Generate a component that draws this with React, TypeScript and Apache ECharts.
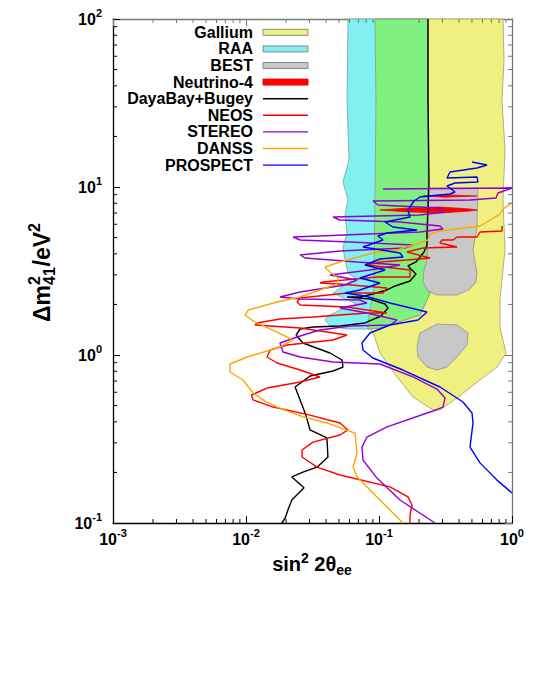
import React, { useEffect, useRef } from "react";
import * as echarts from "echarts";

type Pt = [number, number];

const FONT = "'Liberation Sans', Arial, Helvetica, sans-serif";

const X_MIN = 0.001;
const X_MAX = 1;
const Y_MIN = 0.1;
const Y_MAX = 100;

const X_MINOR_TICKS = [
  0.002, 0.003, 0.004, 0.005, 0.006, 0.007, 0.008, 0.009,
  0.02, 0.03, 0.04, 0.05, 0.06, 0.07, 0.08, 0.09,
  0.2, 0.3, 0.4, 0.5, 0.6, 0.7, 0.8, 0.9,
];
const Y_MINOR_TICKS = [
  0.2, 0.3, 0.4, 0.5, 0.6, 0.7, 0.8, 0.9,
  2, 3, 4, 5, 6, 7, 8, 9,
  20, 30, 40, 50, 60, 70, 80, 90,
];

const LEGEND_LABELS = ["Gallium", "RAA", "BEST", "Neutrino-4", "DayaBay+Bugey", "NEOS", "STEREO", "DANSS", "PROSPECT"];
const LEGEND_KIND = ["box", "box", "box", "solid", "line", "line", "line", "line", "line"];
const LEGEND_COLORS = ["#f0f080", "#80f0f0", "#c8c8c8", "#ff0000", "#000000", "#ff0000", "#9400d3", "#ffa500", "#0000ff"];

const GALLIUM: Pt[] = [
  [0.0932, 100], [0.8556, 100], [0.871, 57.0], [0.8411, 32.9], [0.8861, 16.6], [0.8556, 8.37],
  [0.8861, 4.22], [0.8124, 2.125], [0.8124, 1.468], [0.8556, 1.228], [0.9014, 1.028], [0.7713, 0.848],
  [0.5746, 0.71], [0.3859, 0.555], [0.2875, 0.471], [0.2547, 0.471], [0.1801, 0.562], [0.1366, 0.74],
  [0.1017, 1.028], [0.0916, 1.315], [0.0826, 1.509], [0.0855, 1.853], [0.0916, 2.438], [0.0932, 8.37],
  [0.0949, 32.9],
];

const RAA: Pt[] = [
  [0.0585, 100], [0.2336, 100], [0.2336, 8.37], [0.2296, 3.678], [0.2418, 2.339], [0.2033, 1.73],
  [0.1017, 1.448], [0.0826, 1.428], [0.0575, 1.428], [0.0428, 1.488], [0.0392, 1.616], [0.0413, 1.707],
  [0.0509, 1.853], [0.0684, 2.011], [0.0575, 2.125], [0.0451, 2.339], [0.0509, 2.505], [0.066, 2.873],
  [0.0585, 3.077], [0.0555, 3.678], [0.0536, 4.394], [0.0575, 5.323], [0.0555, 6.813], [0.0585, 8.37],
  [0.0536, 10.71], [0.0595, 14.48], [0.0575, 32.9],
];

const OVERLAP: Pt[] = [
  [0.0932, 100], [0.2336, 100], [0.2336, 8.37], [0.2296, 3.678], [0.2418, 2.339], [0.2033, 1.73],
  [0.1017, 1.448], [0.0826, 1.428], [0.0826, 1.509], [0.0855, 1.853], [0.0916, 2.438], [0.0932, 8.37],
  [0.0949, 32.9],
];

const BEST_UPPER: Pt[] = [
  [0.2336, 9.864], [0.5552, 9.864], [0.5456, 5.78], [0.5091, 4.217], [0.5456, 3.077], [0.536, 2.72],
  [0.4833, 2.471], [0.3859, 2.276], [0.273, 2.276], [0.2336, 2.404], [0.2142, 2.72], [0.2179, 3.206],
  [0.2296, 3.678], [0.2336, 5.546],
];

const BEST_LOWER: Pt[] = [
  [0.1931, 1.116], [0.2033, 1.352], [0.273, 1.53], [0.3859, 1.509], [0.4669, 1.352], [0.4589, 1.147],
  [0.3859, 0.973], [0.3246, 0.848], [0.273, 0.814], [0.2296, 0.848], [0.1965, 0.973],
];

const NEUTRINO4_UPPER: Pt[] = [[0.2142, 8.84], [0.3135, 8.98], [0.546, 8.84], [0.3135, 8.7]];
const NEUTRINO4_LOWER: Pt[] = [
  [0.1017, 7.3], [0.157, 7.47], [0.2875, 7.6], [0.483, 7.4], [0.546, 7.3], [0.483, 7.2], [0.2875, 7.0], [0.157, 7.13],
];

const DAYABAY_BUGEY: Pt[] = [
  [0.2336, 100], [0.2336, 32.9], [0.2377, 10.56], [0.2296, 5.323], [0.2296, 4.516], [0.2179, 4.104],
  [0.1897, 3.578], [0.1652, 3.388], [0.1897, 3.035], [0.1711, 2.758], [0.1319, 2.575], [0.1148, 2.438],
  [0.09, 2.307], [0.072, 2.214], [0.0575, 2.214], [0.0855, 2.154], [0.111, 2.011], [0.1169, 1.905],
  [0.1035, 1.707], [0.0784, 1.551], [0.0509, 1.488], [0.0319, 1.468], [0.0255, 1.428], [0.0238, 1.315],
  [0.0268, 1.179], [0.0428, 1.028], [0.0527, 0.934], [0.0536, 0.848], [0.0451, 0.803], [0.0303, 0.75],
  [0.0234, 0.645], [0.0255, 0.54], [0.0282, 0.439], [0.0303, 0.358], [0.0406, 0.321], [0.0413, 0.247],
  [0.0342, 0.215], [0.0268, 0.201], [0.0221, 0.188], [0.0273, 0.162], [0.0221, 0.137], [0.0207, 0.12],
  [0.0197, 0.1071], [0.0186, 0.1],
];

const NEOS: Pt[] = [
  [0.8411, 5.86], [0.8411, 5.471], [0.5746, 5.396], [0.5456, 5.04], [0.3859, 5.04], [0.3601, 4.837],
  [0.2977, 4.837], [0.2875, 4.642], [0.3859, 4.394], [0.2142, 4.335], [0.1624, 4.104], [0.2418, 3.779],
  [0.1624, 3.678], [0.1017, 3.578], [0.0812, 3.434], [0.1711, 3.206], [0.1711, 2.913], [0.0965, 2.913],
  [0.0379, 2.72], [0.036, 2.683], [0.0509, 2.646], [0.1148, 2.505], [0.1072, 2.339], [0.0575, 2.339],
  [0.0255, 2.184], [0.0242, 2.067], [0.0255, 1.984], [0.0575, 1.931], [0.1148, 1.778], [0.0812, 1.778],
  [0.0319, 1.684], [0.018, 1.638], [0.0121, 1.551], [0.0117, 1.509], [0.0255, 1.448], [0.0575, 1.315],
  [0.0451, 1.228], [0.0203, 1.147], [0.0152, 1.071], [0.0144, 0.973], [0.0171, 0.896], [0.0255, 0.814],
  [0.036, 0.74], [0.0255, 0.691], [0.0144, 0.636], [0.011, 0.578], [0.0113, 0.54], [0.016, 0.49],
  [0.0303, 0.439], [0.0509, 0.394], [0.0585, 0.358], [0.0509, 0.334], [0.0319, 0.303], [0.0264, 0.272],
  [0.0264, 0.247], [0.0342, 0.215], [0.0509, 0.193], [0.121, 0.164], [0.1652, 0.143], [0.1771, 0.128],
  [0.1711, 0.1116], [0.1711, 0.1],
];

const STEREO: Pt[] = [
  [0.1072, 9.73], [1.0, 9.864], [0.7848, 9.21], [0.758, 8.602], [0.4833, 8.369], [0.09, 8.255],
  [0.0982, 7.816], [0.2875, 7.499], [0.3135, 7.099], [0.2033, 6.813], [0.0451, 6.629], [0.0509, 6.362],
  [0.1439, 6.19], [0.2875, 5.86], [0.3029, 5.623], [0.2033, 5.396], [0.0226, 5.04], [0.0255, 4.837],
  [0.0605, 4.706], [0.1801, 4.516], [0.1569, 4.335], [0.0509, 4.16], [0.0255, 3.938], [0.0278, 3.779],
  [0.0684, 3.578], [0.1439, 3.434], [0.0855, 3.206], [0.0428, 2.994], [0.0684, 2.796], [0.0555, 2.61],
  [0.0255, 2.371], [0.018, 2.214], [0.0255, 2.154], [0.072, 2.125], [0.0812, 2.039], [0.0509, 1.905],
  [0.0812, 1.778], [0.1366, 1.616], [0.121, 1.509], [0.0605, 1.488], [0.036, 1.409], [0.0255, 1.297],
  [0.018, 1.179], [0.019, 1.042], [0.0255, 0.973], [0.0451, 0.909], [0.1017, 0.884], [0.1801, 0.74],
  [0.273, 0.627], [0.3135, 0.555], [0.3029, 0.49], [0.2547, 0.464], [0.1148, 0.373], [0.0812, 0.325],
  [0.0745, 0.283], [0.0758, 0.237], [0.0965, 0.185], [0.1439, 0.137], [0.2637, 0.1],
];

const DANSS: Pt[] = [
  [1.0, 8.033], [0.8556, 7.396], [0.8124, 6.907], [0.6486, 6.19], [0.5746, 5.86], [0.2875, 5.471],
  [0.2418, 5.251], [0.2336, 4.837], [0.1366, 4.217], [0.0965, 4.104], [0.0509, 3.578], [0.0392, 3.341],
  [0.0428, 3.119], [0.0492, 2.873], [0.0483, 2.646], [0.0255, 2.214], [0.0171, 2.067], [0.0104, 1.853],
  [0.00983, 1.73], [0.0113, 1.594], [0.0171, 1.37], [0.0226, 1.228], [0.018, 1.116], [0.0102, 0.973],
  [0.00758, 0.884], [0.00758, 0.792], [0.00949, 0.71], [0.0113, 0.594], [0.0139, 0.532], [0.0171, 0.49],
  [0.0268, 0.428], [0.0406, 0.394], [0.066, 0.343], [0.0684, 0.261], [0.0638, 0.215], [0.0684, 0.188],
  [0.1017, 0.137], [0.1515, 0.1],
];

const PROSPECT: Pt[] = [
  [0.5003, 14.09], [0.6486, 13.52], [0.5456, 12.98], [0.3419, 12.28], [0.3246, 11.31], [0.5456, 11.47],
  [0.5552, 10.71], [0.3728, 10.56], [0.3246, 10.14], [0.3728, 9.338], [0.3419, 9.085], [0.2033, 8.72],
  [0.1833, 8.255], [0.1652, 7.297], [0.1711, 6.629], [0.111, 6.19], [0.1274, 5.78], [0.1931, 5.546],
  [0.1148, 5.323], [0.0982, 5.109], [0.1072, 4.837], [0.0758, 4.394], [0.1439, 4.048], [0.1515, 3.831],
  [0.1017, 3.728], [0.0784, 3.434], [0.111, 3.206], [0.072, 2.873], [0.1017, 2.683], [0.072, 2.438],
  [0.0555, 2.339], [0.0784, 2.245], [0.121, 2.039], [0.2296, 1.803], [0.1965, 1.616], [0.121, 1.509],
  [0.0855, 1.352], [0.0745, 1.179], [0.0758, 1.071], [0.09, 0.96], [0.1515, 0.814], [0.2875, 0.645],
  [0.4281, 0.525], [0.5003, 0.452], [0.5091, 0.394], [0.4833, 0.283], [0.5746, 0.228], [0.7713, 0.18],
  [1.0, 0.151],
];

const polySeries = (pts: Pt[], fill: string, stroke: string, z: number) => ({
  type: "custom",
  coordinateSystem: "cartesian2d",
  silent: true,
  z,
  data: [pts[0]],
  renderItem: (_params: any, api: any) => ({
    type: "polygon",
    shape: { points: pts.map((p) => api.coord(p)) },
    style: { fill, stroke, lineWidth: 0.8 },
  }),
});

const lineSeries = (pts: Pt[], color: string, z: number) => ({
  type: "line",
  data: pts,
  showSymbol: false,
  symbol: "none",
  silent: true,
  z,
  lineStyle: { color, width: 1.4 },
});

const tickRich = {
  b: { fontSize: 16, fontWeight: "bold", fontFamily: FONT, color: "#000", lineHeight: 24 },
  s: { fontSize: 11, fontWeight: "bold", fontFamily: FONT, color: "#000", lineHeight: 12, verticalAlign: "top" },
};
const tickFmt = (v: number) => "{b|10}{s|" + Math.round(Math.log10(v)) + "}";

export default function App() {
  const ref = useRef<HTMLDivElement>(null);
  useEffect(() => {
    const chart = echarts.init(ref.current!, null, { renderer: "svg" });

    const legendGraphics: any[] = [];
    LEGEND_LABELS.forEach((label, i) => {
      const y = 32.3 + i * 16.6;
      legendGraphics.push({
        type: "text",
        x: 253,
        y,
        style: { text: label, align: "right", verticalAlign: "middle", fontSize: 16, fontWeight: "bold", fontFamily: FONT, fill: "#000" },
      });
      const kind = LEGEND_KIND[i];
      if (kind === "line") {
        legendGraphics.push({ type: "line", shape: { x1: 263, y1: y, x2: 308, y2: y }, style: { stroke: LEGEND_COLORS[i], lineWidth: 1.4 } });
      } else {
        legendGraphics.push({
          type: "rect",
          shape: { x: 263, y: y - 3, width: 45, height: 6 },
          style: { fill: LEGEND_COLORS[i], stroke: kind === "box" ? "#888" : LEGEND_COLORS[i], lineWidth: 1 },
        });
      }
    });

    const ts = (text: string, size: number) => ({
      text, align: "left", verticalAlign: "middle", fontSize: size, fontWeight: "bold", fontFamily: FONT, fill: "#000",
    });
    const y0 = -50;
    const yTitle = {
      type: "group",
      x: 42,
      y: 272,
      rotation: Math.PI / 2,
      children: [
        { type: "text", x: y0, y: 0, style: ts("Δm", 23) },
        { type: "text", x: y0 + 37, y: -8, style: ts("2", 16) },
        { type: "text", x: y0 + 37, y: 7, style: ts("41", 16) },
        { type: "text", x: y0 + 55.5, y: 0, style: ts("/eV", 23) },
        { type: "text", x: y0 + 90, y: -8, style: ts("2", 16) },
      ],
    };

    const xTitle = {
      type: "text",
      x: 312,
      y: 564,
      style: {
        text: "{b|sin}{sp|2}{b| 2θ}{sb|ee}",
        align: "center",
        verticalAlign: "middle",
        rich: {
          b: { fontSize: 20, fontWeight: "bold", fontFamily: FONT, fill: "#000", lineHeight: 26 },
          sp: { fontSize: 14, fontWeight: "bold", fontFamily: FONT, fill: "#000", lineHeight: 14, verticalAlign: "top" },
          sb: { fontSize: 14, fontWeight: "bold", fontFamily: FONT, fill: "#000", lineHeight: 14, verticalAlign: "bottom" },
        },
      },
    };

    const axisBase = (pos: string, show: boolean, color: string) => ({
      type: "log",
      logBase: 10,
      position: pos,
      axisLine: { show: true, onZero: false, lineStyle: { color, width: 1.3 } },
      axisTick: { show: true, inside: true, length: 7, lineStyle: { color, width: 1 } },
      axisLabel: show
        ? { show: true, formatter: tickFmt, rich: tickRich, margin: pos === "bottom" ? 4 : 11, showMinLabel: true, showMaxLabel: true }
        : { show: false },
      splitLine: { show: false },
      minorTick: { show: false },
    });

    const option: any = {
      animation: false,
      backgroundColor: "#ffffff",
      grid: { left: 113, top: 19, width: 399, height: 504, containLabel: false },
      xAxis: [
        { ...axisBase("bottom", true, "#000"), min: X_MIN, max: X_MAX },
        { ...axisBase("top", false, "#777"), min: X_MIN, max: X_MAX },
      ],
      yAxis: [
        { ...axisBase("left", true, "#000"), min: Y_MIN, max: Y_MAX },
        { ...axisBase("right", false, "#777"), min: Y_MIN, max: Y_MAX },
      ],
      series: [
        polySeries(GALLIUM, "#f0f080", "#a0a070", 1),
        polySeries(RAA, "#80f0f0", "#80a0a0", 1),
        polySeries(OVERLAP, "#80f080", "#80a080", 1),
        polySeries(BEST_UPPER, "#c8c8c8", "#909090", 1),
        polySeries(BEST_LOWER, "#c8c8c8", "#909090", 1),
        polySeries(NEUTRINO4_UPPER, "#ff0000", "#ff0000", 1),
        polySeries(NEUTRINO4_LOWER, "#ff0000", "#ff0000", 1),
        lineSeries(DAYABAY_BUGEY, "#000000", 3),
        lineSeries(NEOS, "#ff0000", 3),
        lineSeries(STEREO, "#9400d3", 3),
        lineSeries(DANSS, "#ffa500", 3),
        lineSeries(PROSPECT, "#0000ff", 3),
        {
          type: "custom",
          coordinateSystem: "cartesian2d",
          silent: true,
          z: 4,
          data: X_MINOR_TICKS.map((v) => [v, 1]),
          renderItem: (params: any, api: any) => {
            const cs = params.coordSys;
            const p = api.coord([api.value(0), 1]);
            return {
              type: "group",
              children: [
                { type: "line", shape: { x1: p[0], y1: cs.y + cs.height, x2: p[0], y2: cs.y + cs.height - 4 }, style: { stroke: "#000", lineWidth: 1 } },
                { type: "line", shape: { x1: p[0], y1: cs.y, x2: p[0], y2: cs.y + 4 }, style: { stroke: "#777", lineWidth: 1 } },
              ],
            };
          },
        },
        {
          type: "custom",
          coordinateSystem: "cartesian2d",
          silent: true,
          z: 4,
          data: Y_MINOR_TICKS.map((v) => [0.01, v]),
          renderItem: (params: any, api: any) => {
            const cs = params.coordSys;
            const p = api.coord([0.01, api.value(1)]);
            return {
              type: "group",
              children: [
                { type: "line", shape: { x1: cs.x, y1: p[1], x2: cs.x + 4, y2: p[1] }, style: { stroke: "#000", lineWidth: 1 } },
                { type: "line", shape: { x1: cs.x + cs.width, y1: p[1], x2: cs.x + cs.width - 4, y2: p[1] }, style: { stroke: "#777", lineWidth: 1 } },
              ],
            };
          },
        },
      ],
      graphic: [...legendGraphics, yTitle, xTitle],
    };

    chart.setOption(option);
    return () => chart.dispose();
  }, []);

  return <div ref={ref} style={{ position: "absolute", left: 0, top: 0, width: 542, height: 677 }} />;
}
